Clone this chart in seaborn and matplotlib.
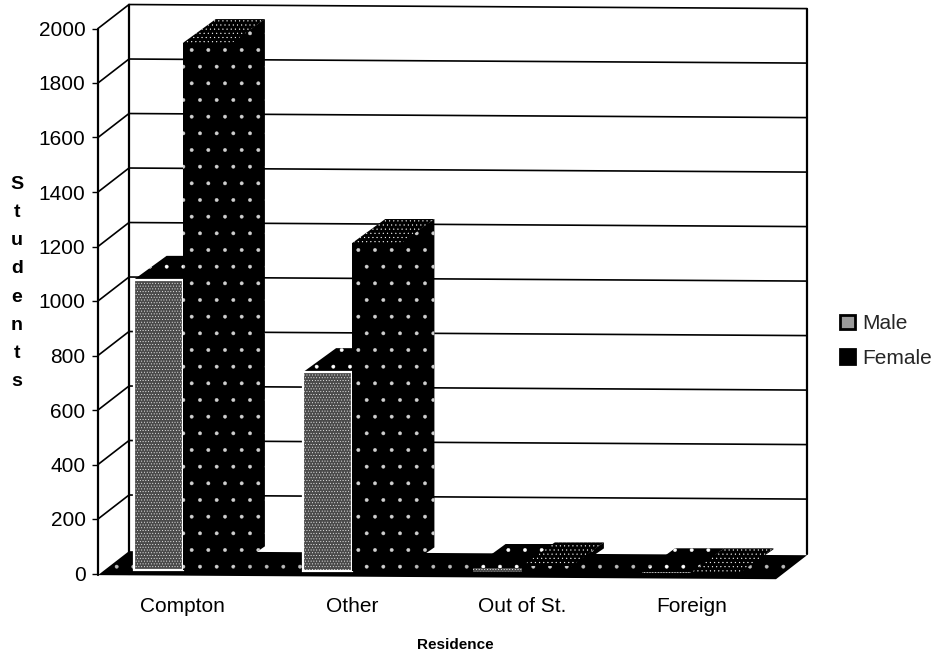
import matplotlib
matplotlib.use("Agg")
import matplotlib.pyplot as plt
from matplotlib.patches import Patch, Polygon
import pandas as pd
import seaborn as sns

residence = ["Compton", "Other", "Out of St.", "Foreign"]
male = [1065, 730, 15, 3]
female = [1935, 1205, 22, 4]
y_ticks = [0, 200, 400, 600, 800, 1000, 1200, 1400, 1600, 1800, 2000]

W, H = 934, 656
PX_X = 169.5      # pixels per category
PX_Y = 0.2725     # pixels per student

sns.set_theme(style="white")
plt.rcParams["font.family"] = ["Liberation Sans", "DejaVu Sans"]
plt.rcParams["hatch.linewidth"] = 0.3

df = pd.DataFrame({
    "Residence": residence * 2,
    "Students": male + female,
    "Sex": ["Male"] * len(male) + ["Female"] * len(female),
})

fig = plt.figure(figsize=(W / 100, H / 100), dpi=100)
ax = fig.add_axes([98 / W, 1 - 573.5 / H, 678 / W, 545 / H])
sns.barplot(data=df, x="Residence", y="Students", hue="Sex", hue_order=["Male", "Female"],
            order=residence, width=0.58, gap=0, dodge=True, legend=False, ax=ax)
ax.set_xlim(-0.5, 3.5)
ax.set_ylim(0, 2000)
sns.despine(ax=ax, left=True, bottom=True)

# depth of the fake 3d box
wall_dx, wall_dy = 31 / PX_X, 88
bar_dx, bar_dy = 33 / PX_X, 88
tilt = 3.73  # the scan sags to the right


def line(xs, ys, lw=1.2):
    ax.plot(xs, ys, color="black", lw=lw, clip_on=False, zorder=1, solid_capstyle="round")


x0, x1 = -0.5, 3.5
drop = tilt * (x1 - x0)
for v in y_ticks[1:]:
    line([x0 + wall_dx, x1 + wall_dx], [v + wall_dy, v + wall_dy - drop])
    line([x0, x0 + wall_dx], [v, v + wall_dy])
line([x0, x0], [-5, 2000], 1.6)
line([x0 + wall_dx, x0 + wall_dx], [0, 2000 + wall_dy], 1.6)
line([x1 + wall_dx, x1 + wall_dx], [wall_dy - drop, 2000 + wall_dy - drop], 1.6)

# floor
floor = Polygon([(x0, -6), (x1, -6 - drop), (x1 + wall_dx, wall_dy - 6 - drop), (x0 + wall_dx, wall_dy - 6)],
                closed=True, facecolor="black", edgecolor="#bbbbbb", hatch=".", lw=0, clip_on=False, zorder=1.5)
ax.add_patch(floor)

# front faces come from seaborn, side and top faces follow them
styles = [
    dict(front="#4a4a4a", hatch_col="white", hatch="......", lw=1.6, top_hatch=".", z=3),
    dict(front="black", hatch_col="#d0d0d0", hatch=".", lw=0, top_hatch="....", z=4),
]
for container, st in zip(ax.containers, styles):
    for bar in container:
        xl = bar.get_x()
        w = bar.get_width()
        h = bar.get_height()
        base = 14 - tilt * (xl + w / 2 - x0)
        bar.set_y(base)
        bar.set(facecolor=st["front"], edgecolor=st["hatch_col"], hatch=st["hatch"], linewidth=st["lw"] if h > 100 else 0,
                zorder=st["z"] + 0.2)
        top = base + h
        # side starts a little under the front so no seam shows
        side = Polygon([(xl + w - 0.01, base), (xl + w + bar_dx, base + bar_dy), (xl + w + bar_dx, top + bar_dy), (xl + w - 0.01, top)],
                       closed=True, facecolor="black", edgecolor="#d0d0d0", hatch=".", lw=0, clip_on=False, zorder=st["z"])
        lid = Polygon([(xl, top), (xl + bar_dx, top + bar_dy), (xl + w + bar_dx, top + bar_dy), (xl + w, top)],
                      closed=True, facecolor="black", edgecolor="white", hatch=st["top_hatch"], lw=0, clip_on=False, zorder=st["z"] + 0.1)
        ax.add_patch(side)
        ax.add_patch(lid)

ax.set_yticks(y_ticks)
ax.set_xticks(range(len(residence)))
ax.set_xticklabels(residence)
ax.tick_params(axis="y", length=4, width=1, color="black", pad=5, labelsize=15, labelcolor="black", left=True)
ax.tick_params(axis="x", length=0, pad=17, labelsize=15, labelcolor="black")

ax.set_xlabel("Residence", fontsize=11, fontweight="bold", color="black")
ax.xaxis.set_label_coords((455 - 98) / 678, (573.5 - 645) / 545, transform=ax.transAxes)
ax.xaxis.label.set_verticalalignment("center")
ax.set_ylabel("")
fig.text(17 / W, 1 - 283 / H, "\n".join("Students"), fontsize=14, fontweight="bold", color="black",
         ha="center", va="center", linespacing=1.85)

handles = [
    Patch(facecolor="#9a9a9a", edgecolor="black", linewidth=2),
    Patch(facecolor="black", edgecolor="black", linewidth=2),
]
fig.legend(handles, ["Male", "Female"], loc="center left", bbox_to_anchor=(840 / W, 1 - 341 / H),
           frameon=False, fontsize=15, handlelength=0.7, handleheight=0.7, handletextpad=0.35,
           labelspacing=0.75, borderpad=0, borderaxespad=0)

fig.savefig("out.png", dpi=100)
